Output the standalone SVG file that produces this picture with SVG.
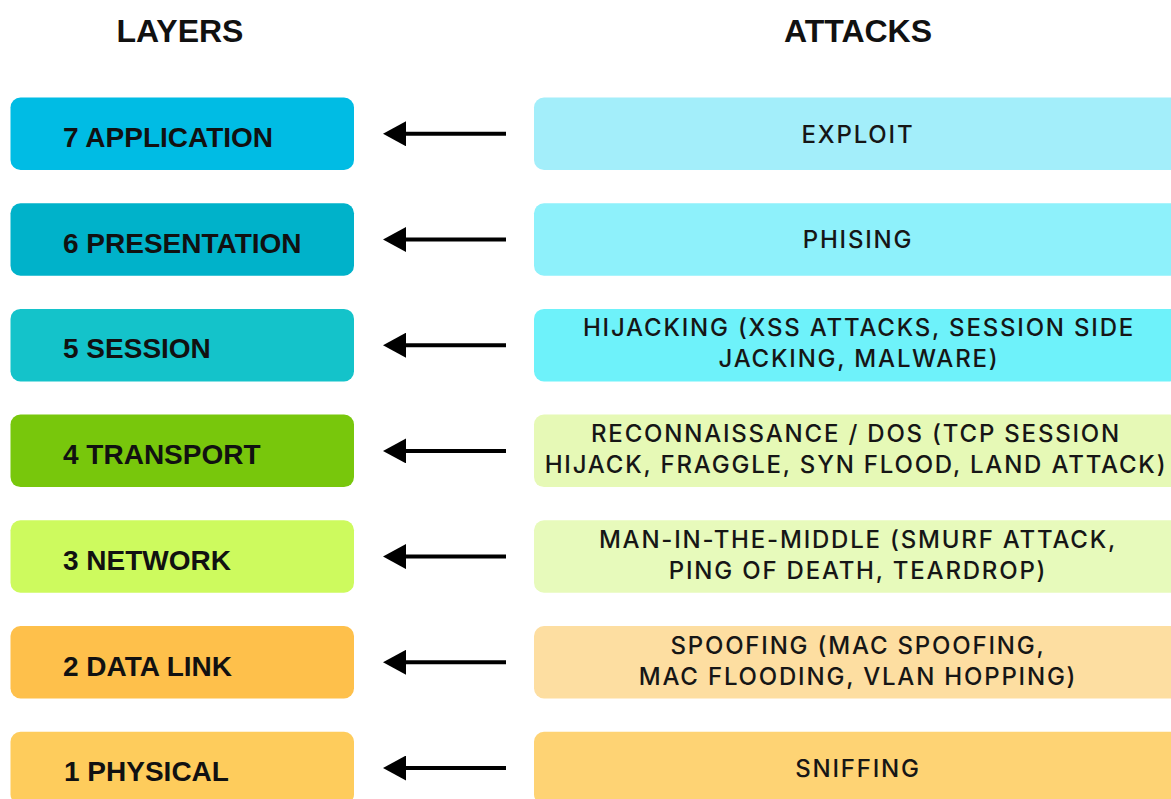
<svg xmlns="http://www.w3.org/2000/svg" width="1171" height="799" viewBox="0 0 1171 799">
  <style>
    .hdr { font-family: "Liberation Sans", Arial, sans-serif; font-weight: bold; font-size: 32px; fill: #111; text-anchor: middle; }
    .lay { font-family: "Liberation Sans", Arial, sans-serif; font-weight: bold; font-size: 28px; fill: #111; }
    .atk { font-family: Inter, "Liberation Sans", Arial, sans-serif; font-weight: 500; font-size: 24px; letter-spacing: 1.8px; fill: #161616; text-anchor: middle; }
    .arrow { stroke: #000; stroke-width: 4; fill: none; marker-end: url(#head); }
  </style>
  <defs>
    <marker id="head" markerUnits="userSpaceOnUse" markerWidth="23" markerHeight="25" viewBox="0 0 23 25" refX="6" refY="12.5" orient="auto">
      <path d="M0,0 L23,12.5 L0,25 Z" fill="#000"/>
    </marker>
  </defs>
  <rect width="1171" height="799" fill="#fff"/>

  <text class="hdr" x="180" y="42">LAYERS</text>
  <text class="hdr" x="858" y="42">ATTACKS</text>

  <g id="layer7"><rect x="10.5" y="97.5" width="343.5" height="72.5" rx="10" fill="#00BCE4"/><text class="lay" x="63" y="147">7 APPLICATION</text></g>
  <g id="layer6"><rect x="10.5" y="203.2" width="343.5" height="72.5" rx="10" fill="#00B2CA"/><text class="lay" x="63" y="252.7">6 PRESENTATION</text></g>
  <g id="layer5"><rect x="10.5" y="308.9" width="343.5" height="72.5" rx="10" fill="#14C3CA"/><text class="lay" x="63" y="358.4">5 SESSION</text></g>
  <g id="layer4"><rect x="10.5" y="414.6" width="343.5" height="72.5" rx="10" fill="#78C70C"/><text class="lay" x="63" y="464.1">4 TRANSPORT</text></g>
  <g id="layer3"><rect x="10.5" y="520.3" width="343.5" height="72.5" rx="10" fill="#CDFA5E"/><text class="lay" x="63" y="569.8">3 NETWORK</text></g>
  <g id="layer2"><rect x="10.5" y="626" width="343.5" height="72.5" rx="10" fill="#FEC04B"/><text class="lay" x="63" y="675.5">2 DATA LINK</text></g>
  <g id="layer1"><rect x="10.5" y="731.7" width="343.5" height="72.5" rx="10" fill="#FECC5C"/><text class="lay" x="64" y="781.2">1 PHYSICAL</text></g>

  <g id="attack7"><rect x="534" y="97.5" width="646" height="72.5" rx="10" fill="#A3EEFA"/><text class="atk" x="858" y="142.5">EXPLOIT</text></g>
  <g id="attack6"><rect x="534" y="203.2" width="646" height="72.5" rx="10" fill="#8EF1FB"/><text class="atk" x="858" y="248.2">PHISING</text></g>
  <g id="attack5"><rect x="534" y="308.9" width="646" height="72.5" rx="10" fill="#6EF2FA"/><text class="atk" x="859" y="336.4">HIJACKING (XSS ATTACKS, SESSION SIDE</text><text class="atk" x="859" y="367.4">JACKING, MALWARE)</text></g>
  <g id="attack4"><rect x="534" y="414.6" width="646" height="72.5" rx="10" fill="#E6F9B6"/><text class="atk" x="856" y="442.1">RECONNAISSANCE / DOS (TCP SESSION</text><text class="atk" x="856" y="473.1">HIJACK, FRAGGLE, SYN FLOOD, LAND ATTACK)</text></g>
  <g id="attack3"><rect x="534" y="520.3" width="646" height="72.5" rx="10" fill="#E7FABB"/><text class="atk" x="858" y="547.8">MAN-IN-THE-MIDDLE (SMURF ATTACK,</text><text class="atk" x="858" y="578.8">PING OF DEATH, TEARDROP)</text></g>
  <g id="attack2"><rect x="534" y="626" width="646" height="72.5" rx="10" fill="#FDDEA1"/><text class="atk" x="858" y="653.5">SPOOFING (MAC SPOOFING,</text><text class="atk" x="858" y="684.5">MAC FLOODING, VLAN HOPPING)</text></g>
  <g id="attack1"><rect x="534" y="731.7" width="646" height="72.5" rx="10" fill="#FED374"/><text class="atk" x="858" y="776.7">SNIFFING</text></g>

  <g id="connectors">
    <line class="arrow" x1="506" y1="133.8" x2="400" y2="133.8"/>
    <line class="arrow" x1="506" y1="239.5" x2="400" y2="239.5"/>
    <line class="arrow" x1="506" y1="345.2" x2="400" y2="345.2"/>
    <line class="arrow" x1="506" y1="450.9" x2="400" y2="450.9"/>
    <line class="arrow" x1="506" y1="556.6" x2="400" y2="556.6"/>
    <line class="arrow" x1="506" y1="662.3" x2="400" y2="662.3"/>
    <line class="arrow" x1="506" y1="768" x2="400" y2="768"/>
  </g>
</svg>
